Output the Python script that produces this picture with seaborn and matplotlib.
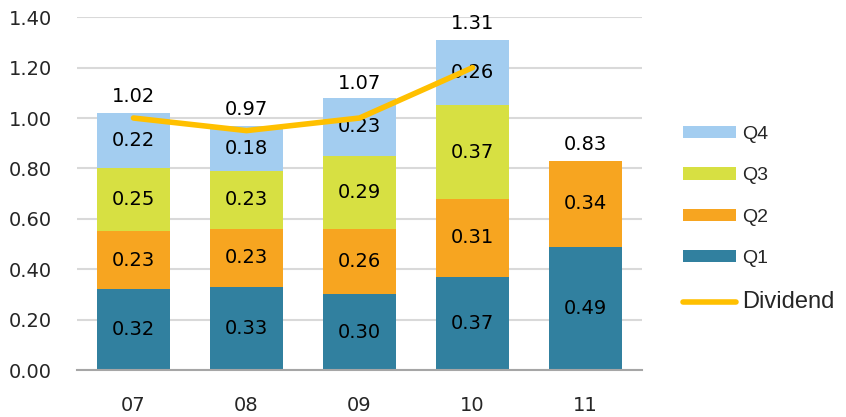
import numpy as np
import pandas as pd
import matplotlib.pyplot as plt
import seaborn as sns
from matplotlib.patches import Patch
from matplotlib.lines import Line2D

# data
years = ['07', '08', '09', '10', '11']
q1 = [0.32, 0.33, 0.30, 0.37, 0.49]
q2 = [0.23, 0.23, 0.26, 0.31, 0.34]
q3 = [0.25, 0.23, 0.29, 0.37, 0.0]
q4 = [0.22, 0.18, 0.23, 0.26, 0.0]
totals = [1.02, 0.97, 1.07, 1.31, 0.83]
dividend = [1.00, 0.95, 1.00, 1.20, np.nan]

quarters = ['Q1', 'Q2', 'Q3', 'Q4']
colors = {'Q1': '#31809F', 'Q2': '#F7A520', 'Q3': '#D7E042', 'Q4': '#A3CDF0'}
line_color = '#FFC000'

df = pd.DataFrame({'year': years, 'Q1': q1, 'Q2': q2, 'Q3': q3, 'Q4': q4})

sns.set_style('white')
plt.rcParams['font.family'] = ['DejaVu Sans']

fig = plt.figure(figsize=(8.46, 4.17), dpi=100)
ax = fig.add_axes([0.091, 0.1127, 0.668, 0.846])

# stacked bars
bottom = np.zeros(len(years))
for q in quarters:
    vals = df[q].to_numpy()
    sns.barplot(x=df['year'], y=vals, bottom=bottom, color=colors[q],
                width=0.64, ax=ax, saturation=1, edgecolor='none')
    for i, v in enumerate(vals):
        if v > 0:
            ax.text(i, bottom[i] + v / 2, f'{v:.2f}', ha='center', va='center',
                    fontsize=14, color='black')
    bottom = bottom + vals

# totals above bars
for i, t in enumerate(totals):
    ax.annotate(f'{t:.2f}', (i, t), xytext=(0, 5), textcoords='offset points',
                ha='center', va='bottom', fontsize=14, color='black')

# dividend line
ax.plot(range(len(years)), dividend, color=line_color, lw=4, solid_capstyle='round',
        solid_joinstyle='miter', zorder=5)

ax.set_ylim(0, 1.40)
ax.set_xlim(-0.5, 4.5)
ax.set_yticks(np.arange(0, 1.41, 0.2))
ax.set_yticklabels([f'{v:.2f}' for v in np.arange(0, 1.41, 0.2)])
ax.yaxis.grid(True, color='#D9D9D9', lw=1.5)
ax.set_axisbelow(True)
ax.set_xlabel('')
ax.set_ylabel('')
ax.tick_params(axis='y', length=0, pad=18, labelsize=14)
ax.tick_params(axis='x', length=0, pad=19, labelsize=14)
for s in ['top', 'right', 'left']:
    ax.spines[s].set_visible(False)
ax.spines['bottom'].set_color('#A6A6A6')
ax.spines['bottom'].set_linewidth(1.5)

# legend
handles = [Patch(facecolor=colors[q], edgecolor='none') for q in quarters[::-1]]
handles.append(Line2D([0], [0], color=line_color, lw=4, solid_capstyle='round'))
labels = quarters[::-1] + ['Dividend']
leg = fig.legend(handles, labels, loc='upper left', bbox_to_anchor=(0.787, 0.74),
                 frameon=False, handlelength=2.7, handleheight=0.6,
                 handletextpad=0.3, labelspacing=1.25,
                 prop={'family': 'Liberation Sans', 'size': 14})
leg.get_texts()[-1].set_fontsize(17)

fig.savefig('out.png', dpi=100)
